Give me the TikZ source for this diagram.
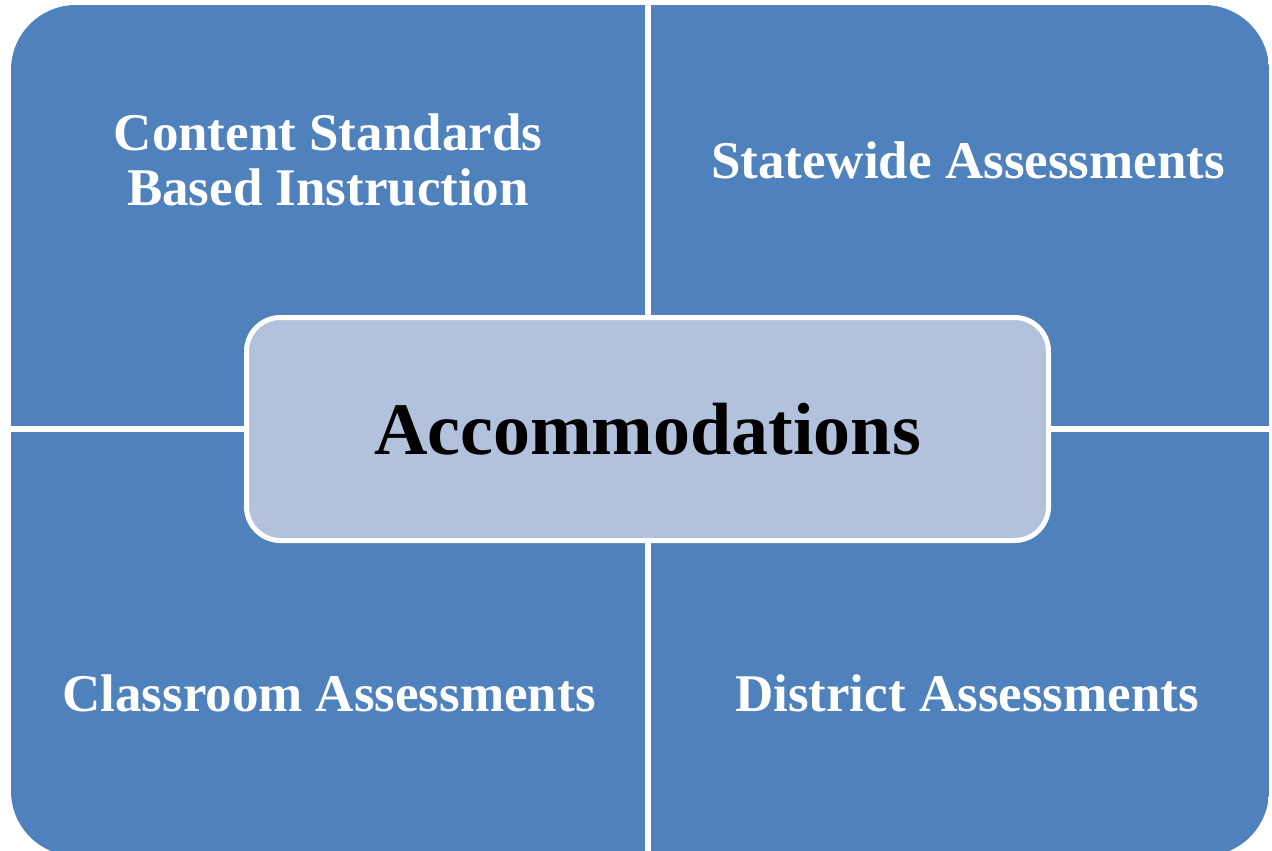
\documentclass[tikz,border=0pt]{standalone}
\usepackage{fontspec}
\setmainfont{Liberation Serif}
\usetikzlibrary{positioning}

\definecolor{quadblue}{RGB}{79,129,189}
\definecolor{centerblue}{RGB}{179,194,220}

\begin{document}
\begin{tikzpicture}[
    x=1pt, y=-1pt,
    quad/.style={fill=quadblue},
    quadtext/.style={text=white, font=\fontsize{53}{55}\selectfont\bfseries, align=center},
    centerbox/.style={rectangle, draw=white, line width=5pt, rounded corners=34pt, fill=centerblue,
        minimum width=802pt, minimum height=223pt, font=\fontsize{74}{80}\selectfont\bfseries},
]
    \useasboundingbox (0,0) rectangle (1272,851);
    % four quadrants, outer corners rounded
    \begin{scope}
        \clip[rounded corners=65pt] (11,5) rectangle (1269,856);
        \fill[quad] (11,5) rectangle (645,426);
        \fill[quad] (651,5) rectangle (1269,426);
        \fill[quad] (11,432) rectangle (645,856);
        \fill[quad] (651,432) rectangle (1269,856);
    \end{scope}
    \node[quadtext] (csbi) at (328,160) {Content Standards\\Based Instruction};
    \node[quadtext] (swa) at (968,160) {Statewide Assessments};
    \node[quadtext] (ca) at (329,693) {Classroom Assessments};
    \node[quadtext] (da) at (967,693) {District Assessments};
    % center
    \node[centerbox] (acc) at (647.5,429) {Accommodations};
\end{tikzpicture}
\end{document}
